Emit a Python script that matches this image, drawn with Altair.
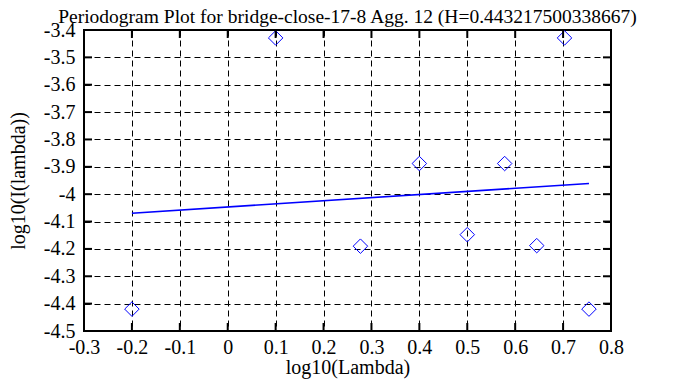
import altair as alt
import pandas as pd

# Periodogram points (log10 lambda, log10 I(lambda))
pt_x = [-0.2, 0.1, 0.277, 0.4, 0.5, 0.578, 0.645, 0.703, 0.754]
pt_y = [-4.42, -3.429, -4.19, -3.888, -4.148, -3.888, -4.188, -3.429, -4.42]

# Least-squares fit line endpoints
fit_x = [-0.2, 0.754]
fit_y = [-4.0695, -3.961]

x_ticks = [-0.3, -0.2, -0.1, 0.0, 0.1, 0.2, 0.3, 0.4, 0.5, 0.6, 0.7, 0.8]
y_ticks = [-4.5, -4.4, -4.3, -4.2, -4.1, -4.0, -3.9, -3.8, -3.7, -3.6, -3.5, -3.4]

TITLE = "Periodogram Plot for bridge-close-17-8 Agg. 12 (H=0.443217500338667)"
FONT = "Liberation Serif"
W, H = 527, 301
TL = 8

pts = pd.DataFrame({"x": pt_x, "y": pt_y})
fit = pd.DataFrame({"x": fit_x, "y": fit_y})
xt = pd.DataFrame({"x": x_ticks})
yt = pd.DataFrame({"y": y_ticks})
ttl = pd.DataFrame({"t": [TITLE]})

lab = "replace(format(datum.value, '~g'), '\u2212', '-')"

xscale = alt.Scale(domain=[-0.3, 0.8], nice=False, zero=False)
yscale = alt.Scale(domain=[-4.5, -3.4], nice=False, zero=False)

xaxis = alt.Axis(values=x_ticks, labelExpr=lab, title="log10(Lambda)",
                 labelPadding=6, titlePadding=0)
yaxis = alt.Axis(values=y_ticks, labelExpr=lab, title="log10(I(lambda))",
                 labelPadding=9, titlePadding=15)

X = alt.X("x:Q", scale=xscale, axis=xaxis)
Y = alt.Y("y:Q", scale=yscale, axis=yaxis)

base_pts = alt.Chart(pts).mark_point(
    shape="diamond", size=210, filled=False, color="#0000ff", strokeWidth=1, opacity=1
).encode(x=X, y=Y)

line = alt.Chart(fit).mark_line(color="#0000ff", strokeWidth=1.6).encode(x=X, y=Y)

tick_style = dict(color="black", strokeWidth=2)
xt_bottom = alt.Chart(xt).mark_rule(**tick_style).encode(
    x=X, y=alt.value(H), y2=alt.value(H - TL))
xt_top = alt.Chart(xt).mark_rule(**tick_style).encode(
    x=X, y=alt.value(0), y2=alt.value(TL))
yt_left = alt.Chart(yt).mark_rule(**tick_style).encode(
    y=Y, x=alt.value(0), x2=alt.value(TL))
yt_right = alt.Chart(yt).mark_rule(**tick_style).encode(
    y=Y, x=alt.value(W), x2=alt.value(W - TL))

title_mark = alt.Chart(ttl).mark_text(
    font=FONT, fontSize=19.5, color="black", align="center", baseline="alphabetic"
).encode(text="t:N", x=alt.value(W / 2), y=alt.value(-7))

chart = alt.layer(
    line, base_pts, xt_bottom, xt_top, yt_left, yt_right, title_mark
).properties(
    width=W, height=H,
    padding={"left": 76, "top": 22, "right": 76, "bottom": 48},
    autosize=alt.AutoSizeParams(type="none"),
    background="white",
).configure_axis(
    grid=True, gridDash=[6, 4], gridColor="black", gridWidth=1, gridOpacity=1,
    ticks=False, domain=False,
    labelFont=FONT, labelFontSize=20, labelColor="black",
    labelOverlap=False, labelFlush=False,
    titleFont=FONT, titleFontSize=20, titleFontWeight="normal", titleColor="black",
).configure_view(
    stroke="black", strokeWidth=2
)

chart.save("out.html", embed_options={"renderer": "svg", "actions": False})
